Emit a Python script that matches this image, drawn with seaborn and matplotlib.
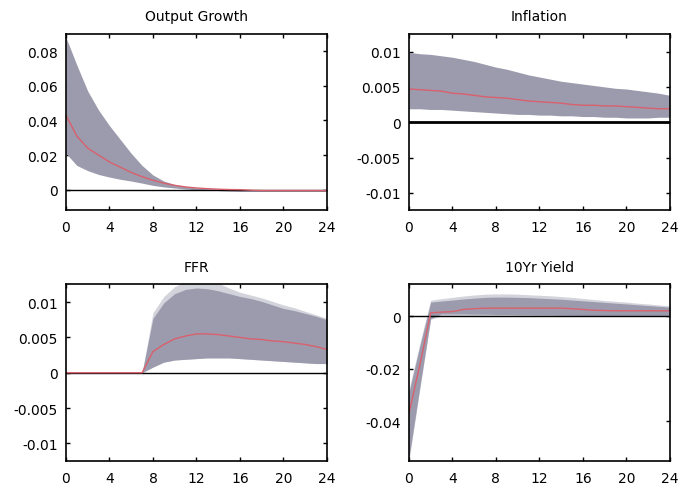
import numpy as np
import pandas as pd
import matplotlib
matplotlib.use("Agg")
import matplotlib.pyplot as plt
import seaborn as sns

# Horizons
horizon = list(range(25))

# Output Growth
og_med = [0.043, 0.031, 0.024, 0.020, 0.016, 0.013, 0.0100, 0.0075, 0.0054, 0.0038, 0.0025, 0.0016, 0.0010,
          0.0006, 0.0003, 0.0001, 0.0, -0.0003, -0.0005, -0.0005, -0.0005, -0.0005, -0.0005, -0.0005, -0.0005]
og_hi = [0.088, 0.072, 0.057, 0.046, 0.037, 0.029, 0.021, 0.014, 0.0085, 0.0050, 0.0030, 0.0018, 0.0010,
         0.0006, 0.0004, 0.0002, 0.0001, 0.0, 0.0, 0.0, 0.0, 0.0, 0.0, 0.0, 0.0]
og_lo = [0.021, 0.014, 0.011, 0.0088, 0.0073, 0.0060, 0.0050, 0.0038, 0.0025, 0.0016, 0.0010, 0.0004, 0.0,
         -0.0002, -0.0005, -0.0008, -0.001, -0.001, -0.001, -0.001, -0.001, -0.001, -0.001, -0.001, -0.001]

# Inflation
inf_med = [0.0047, 0.0046, 0.0045, 0.0044, 0.0041, 0.0040, 0.0038, 0.0036, 0.0035, 0.0034, 0.0032, 0.0030, 0.0029,
           0.0028, 0.0027, 0.0025, 0.0024, 0.0024, 0.0023, 0.0023, 0.0022, 0.0021, 0.0020, 0.0019, 0.0019]
inf_hi = [0.0099, 0.0097, 0.0096, 0.0094, 0.0092, 0.0089, 0.0086, 0.0082, 0.0078, 0.0075, 0.0071, 0.0067, 0.0064,
          0.0061, 0.0058, 0.0056, 0.0054, 0.0052, 0.0050, 0.0048, 0.0047, 0.0045, 0.0043, 0.0041, 0.0038]
inf_lo = [0.0019, 0.0019, 0.0018, 0.0018, 0.0017, 0.0016, 0.0015, 0.0014, 0.0013, 0.0012, 0.0011, 0.0011, 0.0010,
          0.0010, 0.0009, 0.0009, 0.0008, 0.0008, 0.0007, 0.0007, 0.0006, 0.0006, 0.0006, 0.0007, 0.0007]

# FFR
ffr_med = [0, 0, 0, 0, 0, 0, 0, 0, 0.0030, 0.0040, 0.0048, 0.0052, 0.0055, 0.0055, 0.0054, 0.0052, 0.0050,
           0.0048, 0.0047, 0.0045, 0.0044, 0.0042, 0.0040, 0.0037, 0.0033]
ffr_hi = [0, 0, 0, 0, 0, 0, 0, 0, 0.0077, 0.0099, 0.0112, 0.0118, 0.0120, 0.0119, 0.0116, 0.0112, 0.0108,
          0.0105, 0.0101, 0.0096, 0.0091, 0.0088, 0.0084, 0.0080, 0.0075]
ffr_lo = [0, 0, 0, 0, 0, 0, 0, 0, 0.0008, 0.0015, 0.0018, 0.0019, 0.0020, 0.0021, 0.0021, 0.0021, 0.0020,
          0.0019, 0.0018, 0.0017, 0.0016, 0.0015, 0.0014, 0.0013, 0.0013]
ffr_hi_outer = [0, 0, 0, 0, 0, 0, 0, 0, 0.0085, 0.0108, 0.0122, 0.0129, 0.0132, 0.0131, 0.0127, 0.0120, 0.0114,
                0.0110, 0.0106, 0.0101, 0.0096, 0.0092, 0.0087, 0.0082, 0.0077]

# 10Yr Yield
ty_med = [-0.037, -0.0187, 0.0012, 0.0015, 0.0017, 0.0025, 0.0028, 0.003, 0.003, 0.003, 0.003, 0.003, 0.003,
          0.003, 0.003, 0.0028, 0.0025, 0.0022, 0.0021, 0.0020, 0.0020, 0.0020, 0.0020, 0.0020, 0.0020]
ty_hi = [-0.029, -0.0115, 0.0053, 0.0057, 0.0061, 0.0065, 0.0068, 0.0071, 0.0072, 0.0072, 0.0071, 0.0070, 0.0068,
         0.0066, 0.0064, 0.0061, 0.0058, 0.0055, 0.0052, 0.0049, 0.0046, 0.0043, 0.0040, 0.0037, 0.0034]
ty_lo = [-0.054, -0.027, -0.001, 0.0008, 0.0008, 0.0008, 0.0007, 0.0007, 0.0006, 0.0006, 0.0005, 0.0005, 0.0004,
         0.0004, 0.0003, 0.0003, 0.0002, 0.0002, 0.0002, 0.0001, 0.0001, 0.0001, 0.0001, 0.0001, 0.0001]
ty_hi_outer = [-0.028, -0.0105, 0.0060, 0.0066, 0.0071, 0.0076, 0.0080, 0.0083, 0.0084, 0.0084, 0.0083, 0.0081,
               0.0079, 0.0077, 0.0074, 0.0071, 0.0067, 0.0063, 0.0059, 0.0056, 0.0053, 0.0049, 0.0046, 0.0042, 0.0039]
ty_lo_outer = [-0.055, -0.028, -0.0012, 0.0, 0.0, 0.0, 0.0, 0.0, 0.0, 0.0, 0.0, 0.0, 0.0,
               0.0, 0.0, 0.0, 0.0, 0.0, 0.0, 0.0, 0.0, 0.0, 0.0, 0.0, 0.0]

titles = ["Output Growth", "Inflation", "FFR", "10Yr Yield"]

sns.set_theme(style="ticks")
plt.rcParams['font.family'] = ['DejaVu Sans']

DARK = "#9c9bad"
LIGHT = "#d3d3dc"
RED = "#d9606c"

fig, axes = plt.subplots(2, 2, figsize=(6.78, 4.85), dpi=100)
fig.subplots_adjust(left=0.0973, right=0.988, bottom=0.0474, top=0.928, wspace=0.314, hspace=0.419)

panels = [
    (axes[0, 0], og_med, og_lo, og_hi, None, None, (-0.012, 0.09),
     [0, 0.02, 0.04, 0.06, 0.08], ["0", "0.02", "0.04", "0.06", "0.08"], 1.0),
    (axes[0, 1], inf_med, inf_lo, inf_hi, None, None, (-0.0125, 0.0125),
     [-0.01, -0.005, 0, 0.005, 0.01], ["-0.01", "-0.005", "0", "0.005", "0.01"], 2.0),
    (axes[1, 0], ffr_med, ffr_lo, ffr_hi, ffr_lo, ffr_hi_outer, (-0.0125, 0.0125),
     [-0.01, -0.005, 0, 0.005, 0.01], ["-0.01", "-0.005", "0", "0.005", "0.01"], 1.0),
    (axes[1, 1], ty_med, ty_lo, ty_hi, ty_lo_outer, ty_hi_outer, (-0.055, 0.012),
     [-0.04, -0.02, 0], ["-0.04", "-0.02", "0"], 1.0),
]

for (ax, med, lo, hi, lo2, hi2, ylim, yt, ytl, zlw), title in zip(panels, titles):
    df = pd.DataFrame({"h": horizon, "med": med, "lo": lo, "hi": hi})
    if hi2 is not None:
        ax.fill_between(horizon, lo2, hi2, color=LIGHT, lw=0, zorder=1)
    ax.fill_between(df["h"], df["lo"], df["hi"], color=DARK, lw=0, zorder=2)
    ax.axhline(0, color="black", lw=zlw, zorder=3)
    sns.lineplot(data=df, x="h", y="med", ax=ax, color=RED, lw=1.0, zorder=4)
    ax.set_xlim(0, 24)
    ax.set_ylim(*ylim)
    ax.set_xticks(range(0, 25, 4))
    ax.set_xticklabels([str(v) for v in range(0, 25, 4)])
    ax.set_yticks(yt)
    ax.set_yticklabels(ytl)
    ax.set_xlabel("")
    ax.set_ylabel("")
    ax.set_title(title, fontsize=10, pad=10, color="black")
    ax.tick_params(direction="in", length=3, width=1, top=True, right=True,
                   labelsize=10, colors="black")
    ax.tick_params(axis="x", pad=7)
    ax.tick_params(axis="y", pad=6)
    for s in ax.spines.values():
        s.set_linewidth(1.2)
        s.set_color("black")
        s.set_zorder(5)

fig.savefig("out.png", dpi=100)
